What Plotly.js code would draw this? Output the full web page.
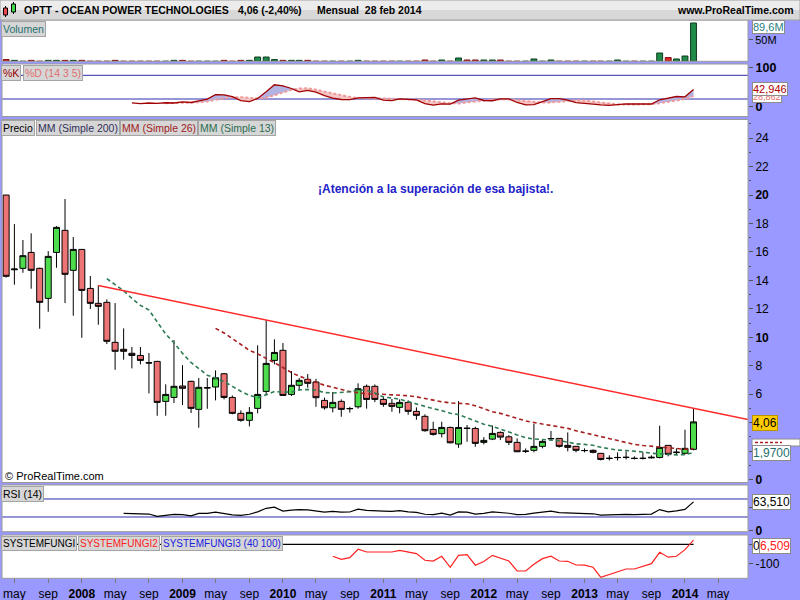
<!DOCTYPE html>
<html><head><meta charset="utf-8">
<script src="https://cdn.plot.ly/plotly-3.0.1.min.js"></script>
<style>html,body{margin:0;padding:0;background:#9999ff;}#chart{width:800px;height:600px;}</style>
</head><body><div id="chart"></div>
<script>
// ---------------- DATA ----------------
const months = ['2007-04','2007-05','2007-06','2007-07','2007-08','2007-09','2007-10','2007-11','2007-12',
'2008-01','2008-02','2008-03','2008-04','2008-05','2008-06','2008-07','2008-08','2008-09','2008-10','2008-11','2008-12',
'2009-01','2009-02','2009-03','2009-04','2009-05','2009-06','2009-07','2009-08','2009-09','2009-10','2009-11','2009-12',
'2010-01','2010-02','2010-03','2010-04','2010-05','2010-06','2010-07','2010-08','2010-09','2010-10','2010-11','2010-12',
'2011-01','2011-02','2011-03','2011-04','2011-05','2011-06','2011-07','2011-08','2011-09','2011-10','2011-11','2011-12',
'2012-01','2012-02','2012-03','2012-04','2012-05','2012-06','2012-07','2012-08','2012-09','2012-10','2012-11','2012-12',
'2013-01','2013-02','2013-03','2013-04','2013-05','2013-06','2013-07','2013-08','2013-09','2013-10','2013-11','2013-12',
'2014-01','2014-02'];

const openP = [20.0,14.75,14.85,15.97,14.85,12.74,15.97,17.52,14.71,
16.18,13.44,12.39,12.46,9.65,9.16,8.88,8.73,8.22,8.31,5.5,5.78,
6.58,6.91,4.94,6.44,6.51,7.44,5.78,4.66,4.17,5.01,6.2,8.38,
9.09,5.99,6.63,7.05,6.86,5.57,5.05,5.5,4.98,5.12,6.56,6.56,
5.64,5.36,5.08,5.43,4.8,4.45,3.53,3.23,3.67,2.5,3.62,3.6,
2.62,2.85,3.32,3.01,2.62,2.0,2.06,2.34,2.87,2.9,2.41,2.34,
2.04,2.06,1.85,1.49,1.55,1.56,1.5,1.49,1.53,1.56,2.41,1.9,
1.85,2.13];
const highP = [20.0,17.96,16.84,17.31,14.9,16.06,17.82,19.72,17.05,
16.2,14.31,13.65,12.67,12.41,10.63,9.32,9.32,8.9,8.35,6.7,9.81,
8.05,6.95,7.14,7.14,7.68,7.5,5.92,4.87,5.1,9.44,11.19,9.86,
9.6,7.63,7.14,7.42,7.09,5.76,6.16,5.64,5.12,6.77,6.69,6.69,
5.83,5.67,5.64,5.57,5.08,4.59,4.07,4.07,3.72,5.52,3.84,3.72,
2.99,3.81,3.39,3.13,2.9,2.19,3.93,2.83,3.42,2.92,3.32,2.36,
2.2,2.13,1.86,1.71,1.92,1.99,1.64,1.92,1.71,3.79,2.43,2.2,
3.51,5.01];
const lowP = [14.2,13.7,14.54,13.42,10.61,11.8,14.89,12.41,11.52,
9.97,11.99,10.89,9.53,7.72,8.43,7.82,8.1,6.06,4.49,4.49,5.38,
5.24,4.68,3.65,4.98,5.57,5.64,4.59,4.07,3.74,4.66,5.92,8.1,
5.9,5.88,6.25,6.46,5.12,4.92,4.73,4.42,4.71,4.99,4.99,5.45,
5.12,4.77,4.66,4.56,4.21,3.37,3.09,2.97,2.55,2.24,2.66,2.31,
2.48,2.78,2.78,2.43,1.94,1.87,1.92,2.2,2.76,2.25,1.99,1.92,
1.92,1.85,1.35,1.35,1.35,1.42,1.42,1.42,1.49,1.49,1.64,1.78,
1.78,2.06];
const closeP = [14.29,14.8,15.74,14.71,12.46,15.69,17.73,14.43,16.18,
13.3,12.39,12.18,9.72,9.02,9.02,8.73,8.38,8.2,5.43,5.99,6.56,
6.42,5.01,6.49,6.46,7.16,5.78,4.66,4.17,4.73,5.99,8.17,8.94,
5.92,6.63,6.98,6.77,5.76,5.05,5.43,4.94,5.0,6.39,5.64,5.64,
5.29,5.15,5.43,4.8,4.52,3.44,3.18,3.67,2.59,3.67,3.6,2.55,
2.76,3.25,2.99,2.62,1.96,2.0,2.34,2.69,2.89,2.34,2.27,2.06,
2.05,1.92,1.42,1.5,1.56,1.57,1.49,1.5,1.57,2.27,1.78,1.93,
2.2,4.06];
// volume in millions (0 = too small to see)
const volumeM = [4,2.2,0,2.2,0,2.2,2.2,2.2,2.2,
2.2,0,0,0,2.2,0,0,0,0,0,0,2.2,
2.2,0,0,0,0,2.2,0,2.2,2.2,10,10,4,
2.2,2.2,2.2,2.2,0,0,0,0,0,2.2,0,0,
0,0,0,0,0,3,0,3,0,7.7,3,3,
3,3,3,0,0,0,5.4,0,3,0,0,0,
0,0,0,0,3,0,0,0,0,19.4,8.7,5.4,
12.4,89.6];
// SYSTEMFUNGI2 (red), from 2010-07
const sf2Months = ['2010-07','2010-08','2010-09','2010-10','2010-11','2010-12',
'2011-01','2011-02','2011-03','2011-04','2011-05','2011-06','2011-07','2011-08','2011-09','2011-10','2011-11','2011-12',
'2012-01','2012-02','2012-03','2012-04','2012-05','2012-06','2012-07','2012-08','2012-09','2012-10','2012-11','2012-12',
'2013-01','2013-02','2013-03','2013-04','2013-05','2013-06','2013-07','2013-08','2013-09','2013-10','2013-11','2013-12',
'2014-01','2014-02'];
const sf2Values = [-63,-79,-70,-26,-40.5,-40.5,
-40.5,-40.5,-31.6,-42,-49,-84,-88,-63,-121,-58,-54,-110,
-91,-58,-72,-88,-140.5,-140.5,-105,-75.5,-63,-88,-89.5,-109,
-110,-121,-174,-160,-147,-130,-130,-116,-102,-42,-68,-63,
-28,22];
// SYSTEMFUNGI (black)
const sf1Months = ['2007-04','2014-02'];
const sf1Values = [0,0];
// trend line ("bajista")
const trendX = ['2008-03-01','2014-08-18'];
const trendY = [13.65,4.22];

const xTickVals = ['2007-05','2007-09','2008-01','2008-05','2008-09','2009-01','2009-05','2009-09','2010-01','2010-05','2010-09',
'2011-01','2011-05','2011-09','2012-01','2012-05','2012-09','2013-01','2013-05','2013-09','2014-01','2014-05'];
const xTickText = ['may','sep','<b>2008</b>','may','sep','<b>2009</b>','may','sep','<b>2010</b>','may','sep',
'<b>2011</b>','may','sep','<b>2012</b>','may','sep','<b>2013</b>','may','sep','<b>2014</b>','may'];
const priceTickVals = [0,2,4,6,8,10,12,14,16,18,20,22,24];
const priceTickText = ['<b>0</b>','','','6','8','<b>10</b>','12','14','16','18','<b>20</b>','22','24'];
const priceMinor = [1,3,5,7,9,11,13,15,17,19,21,23,25];

// ---------------- INDICATORS (derived from the OHLC above) ----------------
function sma(a,n){return a.map((v,i)=>{if(i<n-1)return null;let s=0,k=0;for(let j=i-n+1;j<=i;j++){if(a[j]==null)return null;s+=a[j];k++;}return s/k;});}
const ma13 = sma(closeP,13), ma26 = sma(closeP,26);
function rsi(c,n){const out=c.map(()=>null);let g=0,l=0;for(let i=1;i<=n;i++){const d=c[i]-c[i-1];if(d>0)g+=d;else l-=d;}g/=n;l/=n;out[n]=100*g/(g+l);
 for(let i=n+1;i<c.length;i++){const d=c[i]-c[i-1];g=(g*(n-1)+Math.max(d,0))/n;l=(l*(n-1)+Math.max(-d,0))/n;out[i]=100*g/(g+l);}return out;}
const rsi14 = rsi(closeP,14);
const rawK = closeP.map((c,i)=>{if(i<13)return null;const hh=Math.max(...highP.slice(i-13,i+1)),ll=Math.min(...lowP.slice(i-13,i+1));return 100*(c-ll)/(hh-ll);});
const stK = sma(rawK,3), stD = sma(stK,5);
const kdUp = stK.map((k,i)=>stD[i]==null?null:Math.max(k,stD[i]));
const kdDn = stK.map((k,i)=>stD[i]==null?null:Math.min(k,stD[i]));

// ---------------- LAYOUT HELPERS ----------------
const W=800,H=600,ML=2,MR=52,MT=20,MB=20,PW=W-ML-MR,PH=H-MT-MB;
const fx=p=>(p-ML)/PW, fy=p=>(H-MB-p)/PH;
const FONT='Liberation Sans, Arial, sans-serif';
const BG='#9999ff';
const panels={vol:[20,61.3],sto:[64,116.5],px:[119.5,482.5],rsi:[485,531.7],sf:[535,578.3]};
const dom=k=>[fy(panels[k][1]),Math.min(1,fy(panels[k][0]))];

function txt(text,x,y,o){return Object.assign({text,x:fx(x),y:fy(y),xref:'paper',yref:'paper',showarrow:false,xanchor:'left',yanchor:'middle',font:{family:FONT,size:12,color:'#000'}},o||{});}
function btn(text,x,y,color,size){return {text,x:fx(x),y:fy(y),xref:'paper',yref:'paper',showarrow:false,xanchor:'left',yanchor:'top',
 font:{family:FONT,size:size||10.5,color},bgcolor:'#d6d6d6',bordercolor:'#a4a4a4',borderwidth:1,borderpad:1};}
function vbox(text,y,color,bg,border,size){return {text,x:fx(752),y:fy(y),xref:'paper',yref:'paper',showarrow:false,xanchor:'left',yanchor:'middle',
 font:{family:FONT,size:size||12,color},bgcolor:bg||'#ffffff',bordercolor:border||'#8c8c8c',borderwidth:1,borderpad:0};}
function prect(x0,y0,x1,y1,fill,line,lw){return {type:'rect',xref:'paper',yref:'paper',x0:fx(x0),x1:fx(x1),y0:fy(y0),y1:fy(y1),fillcolor:fill||'rgba(0,0,0,0)',line:{color:line||'rgba(0,0,0,0)',width:lw==null?1:lw},layer:'above'};}

// ---------------- TRACES ----------------
const volColors = closeP.map((c,i)=>c>=openP[i]?'#1f8a4a':'#e02828');
const volLine = closeP.map((c,i)=>c>=openP[i]?'#0b3d1c':'#7a0c0c');
const traces=[
 {type:'bar',x:months,y:volumeM,xaxis:'x',yaxis:'y',marker:{color:volColors,line:{color:volLine,width:1}},width:1.85e9,hoverinfo:'skip'},
 // stochastic fills
 {type:'scatter',mode:'lines',x:months,y:stD,xaxis:'x',yaxis:'y2',line:{width:0,color:'rgba(0,0,0,0)'},hoverinfo:'skip'},
 {type:'scatter',mode:'lines',x:months,y:kdUp,xaxis:'x',yaxis:'y2',fill:'tonexty',fillcolor:'#b3b3e3',line:{width:0,color:'rgba(0,0,0,0)'},hoverinfo:'skip'},
 {type:'scatter',mode:'lines',x:months,y:stD,xaxis:'x',yaxis:'y2',line:{width:0,color:'rgba(0,0,0,0)'},hoverinfo:'skip'},
 {type:'scatter',mode:'lines',x:months,y:kdDn,xaxis:'x',yaxis:'y2',fill:'tonexty',fillcolor:'#f6c6c6',line:{width:0,color:'rgba(0,0,0,0)'},hoverinfo:'skip'},
 {type:'scatter',mode:'lines',x:months,y:stD,xaxis:'x',yaxis:'y2',line:{width:2,color:'#f09a9a',dash:'3px,2px'},hoverinfo:'skip'},
 {type:'scatter',mode:'lines',x:months,y:stK,xaxis:'x',yaxis:'y2',line:{width:1.3,color:'#a00000'},hoverinfo:'skip'},
 // price
 {type:'scatter',mode:'lines',x:months,y:ma26,xaxis:'x',yaxis:'y3',line:{width:1.6,color:'#a82020',dash:'4px,3px'},hoverinfo:'skip'},
 {type:'scatter',mode:'lines',x:months,y:ma13,xaxis:'x',yaxis:'y3',line:{width:1.6,color:'#2e7d55',dash:'4px,3px'},hoverinfo:'skip'},
 {type:'scatter',mode:'lines',x:trendX,y:trendY,xaxis:'x',yaxis:'y3',line:{width:1.5,color:'#ff2a2a'},hoverinfo:'skip'},
 {type:'candlestick',x:months,open:openP,high:highP,low:lowP,close:closeP,xaxis:'x',yaxis:'y3',whiskerwidth:0,
  increasing:{fillcolor:'#4cdc4c',line:{color:'#000000',width:1}},decreasing:{fillcolor:'#ec7474',line:{color:'#000000',width:1}},hoverinfo:'skip'},
 // RSI
 {type:'scatter',mode:'lines',x:months,y:rsi14,xaxis:'x',yaxis:'y4',line:{width:1.2,color:'#000'},hoverinfo:'skip'},
 // SYSTEMFUNGI
 {type:'scatter',mode:'lines',x:sf1Months,y:sf1Values,xaxis:'x',yaxis:'y5',line:{width:1.2,color:'#000'},hoverinfo:'skip'},
 {type:'scatter',mode:'lines',x:sf2Months,y:sf2Values,xaxis:'x',yaxis:'y5',line:{width:1.2,color:'#ff2020'},hoverinfo:'skip'}
];

// ---------------- AXES ----------------
const yBase={side:'right',anchor:'x',showgrid:false,zeroline:false,showline:false,ticks:'outside',ticklen:4,tickcolor:'#555',
 tickfont:{family:FONT,size:12,color:'#000'},fixedrange:true,tickmode:'array'};
const layout={
 width:W,height:H,margin:{l:ML,r:MR,t:MT,b:MB},paper_bgcolor:BG,plot_bgcolor:'#ffffff',showlegend:false,
 boxgap:0.22,boxgroupgap:0,bargap:0.2,
 xaxis:{type:'date',range:['2007-03-17','2014-08-18'],anchor:'y5',domain:[0,1],tickmode:'array',tickvals:xTickVals,ticktext:xTickText,
  ticks:'outside',ticklen:4,tickcolor:'#777',showgrid:false,zeroline:false,showline:false,rangeslider:{visible:false},
  tickfont:{family:FONT,size:12,color:'#000'},fixedrange:true},
 yaxis:Object.assign({},yBase,{domain:dom('vol'),range:[0,96.6],tickvals:[50],ticktext:['50M'],tickfont:{family:FONT,size:11,color:'#000'}}),
 yaxis2:Object.assign({},yBase,{domain:dom('sto'),range:[-24.3,108.6],tickvals:[0,100],ticktext:['<b>0</b>','<b>100</b>'],tickfont:{family:FONT,size:12.5,color:'#000'}}),
 yaxis3:Object.assign({},yBase,{domain:dom('px'),range:[-0.2,25.31],tickvals:priceTickVals,ticktext:priceTickText,
  minor:{tickvals:priceMinor,ticks:'outside',ticklen:2,tickcolor:'#555'}}),
 yaxis4:Object.assign({},yBase,{domain:dom('rsi'),range:[-2.7,101.1],tickvals:[0,50],ticktext:['<b>0</b>','']}),
 yaxis5:Object.assign({},yBase,{domain:dom('sf'),range:[-179,49],tickvals:[0,-100],ticktext:['','-100']}),
 shapes:[],annotations:[]
};
// reference lines
[80,20].forEach(v=>layout.shapes.push({type:'line',xref:'paper',yref:'y2',x0:0,x1:1,y0:v,y1:v,line:{color:'#2c2cb0',width:1},layer:'below'}));
[70,30].forEach(v=>layout.shapes.push({type:'line',xref:'paper',yref:'y4',x0:0,x1:1,y0:v,y1:v,line:{color:'#2c2cb0',width:1},layer:'below'}));
// panel borders
Object.keys(panels).forEach(k=>layout.shapes.push(prect(ML,panels[k][0],W-MR,panels[k][1],null,'#9a9a9a',1)));
// title bar
layout.shapes.push(prect(0,0,800,10,'#ececec',null,0));
layout.shapes.push(prect(0,10,800,20,'#d8d8d8',null,0));
layout.shapes.push(prect(0,0,800,20,null,'#a0a0a0',1));
// candle icon
layout.shapes.push({type:'line',xref:'paper',yref:'paper',x0:fx(5.5),x1:fx(5.5),y0:fy(6),y1:fy(17),line:{color:'#000',width:1},layer:'above'});
layout.shapes.push(prect(3.5,8,7.5,15,'#ec4848','#000',1));
layout.shapes.push({type:'line',xref:'paper',yref:'paper',x0:fx(13.5),x1:fx(13.5),y0:fy(2),y1:fy(14),line:{color:'#000',width:1},layer:'above'});
layout.shapes.push(prect(11.5,4,15.5,12,'#44d844','#000',1));
// label behind 1,9700 (MA26 marker)
layout.shapes.push(prect(752,439,800,446,'#ffffff','#8c8c8c',1));
layout.shapes.push({type:'line',xref:'paper',yref:'paper',x0:fx(755),x1:fx(782),y0:fy(442.5),y1:fy(442.5),line:{color:'#a82020',width:1.5,dash:'3px,2px'},layer:'above'});

const A=layout.annotations;
A.push(txt('<b>OPTT - OCEAN POWER TECHNOLOGIES</b>',22,10.5,{font:{family:FONT,size:10.5,color:'#000'}}));
A.push(txt('<b>4,06 (-2,40%)</b>',236,10.5,{font:{family:FONT,size:10.5,color:'#000'}}));
A.push(txt('<b>Mensual  28 feb 2014</b>',315,10.5,{font:{family:FONT,size:10.5,color:'#000'}}));
A.push(txt('<b>www.ProRealTime.com</b>',796,10.5,{xanchor:'right',font:{family:FONT,size:10.5,color:'#000'}}));
// panel legends
A.push(btn('Volumen',1,21,'#1f7070'));
A.push(btn('%K',1,65,'#990000'));
A.push(btn('%D (14 3 5)',23,65,'#e07070'));
A.push(btn('Precio',1,120,'#000000'));
A.push(btn('MM (Simple 200)',36,120,'#303058'));
A.push(btn('MM (Simple 26)',120,120,'#a02020'));
A.push(btn('MM (Simple 13)',198,120,'#2a6e50'));
A.push(btn('RSI (14)',1,486,'#000000'));
A.push(btn('SYSTEMFUNGI',1,536,'#000000',10));
A.push(btn('SYSTEMFUNGI2',78,536,'#ff2020',10));
A.push(btn('SYSTEMFUNGI3 (40 100)',161,536,'#2020e0',10));
// texts in price panel
A.push(txt('<b>¡Atención a la superación de esa bajista!.</b>',435,189,{xanchor:'center',font:{family:FONT,size:12,color:'#2222c8'}}));
A.push(txt('© ProRealTime.com',3,476,{font:{family:FONT,size:11,color:'#000'}}));
// value boxes on the right
A.push(vbox('89,6M',27.5,'#1f8080',null,null,11));
A.push(vbox('28,862',97,'#e07070',null,null,9));
A.push(vbox('42,946',88.5,'#aa0000',null,null,11));
A.push(vbox('4,06',423,'#000000','#ffcc00','#b89400'));
A.push(vbox('1,9700',453,'#1f7070'));
A.push(vbox('63,510',502,'#000000'));
A.push(vbox('0',546,'#000000'));
A.push(Object.assign(vbox('6,509',546,'#ff2020'),{x:fx(759)}));

Plotly.newPlot('chart',traces,layout,{staticPlot:true,displayModeBar:false});
</script>
</body></html>
